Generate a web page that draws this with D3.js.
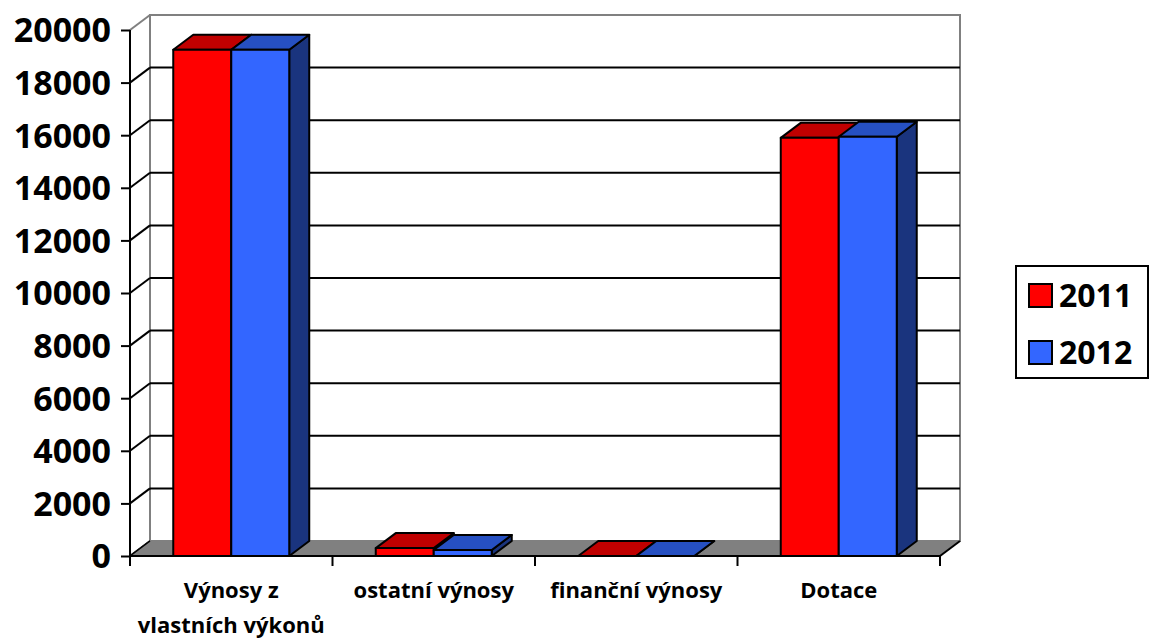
<!DOCTYPE html>
<html><head><meta charset="utf-8">
<script src="https://cdn.jsdelivr.net/npm/d3@7"></script>
<style>body{margin:0;background:#fff}svg{display:block}</style>
</head><body>
<svg id="c" width="1151" height="641"></svg>
<script>
const categories = [["Výnosy z","vlastních výkonů"],["ostatní výnosy"],["finanční výnosy"],["Dotace"]];
const seriesNames = ["2011","2012"];
const values2011 = [19250, 300, 0, 15900];
const values2012 = [19250, 230, 0, 15940];
const yTicks = [0,2000,4000,6000,8000,10000,12000,14000,16000,18000,20000];

const svg = d3.select("#c");
const font = "'Open Sans', Lato, sans-serif";
const X0 = 130, X1 = 940, Y0 = 556, YT = 30, DX = 20, DY = -15;
const y = d3.scaleLinear().domain([0,20000]).range([Y0, YT]);
const x = d3.scaleBand().domain(d3.range(categories.length)).range([X0, X1]).padding(0);
const xs = d3.scaleBand().domain(seriesNames).range([0, x.bandwidth()]).paddingInner(0).paddingOuter(0.7457);
const colors = {
  "2011": {front:"#FF0000", top:"#C00000", side:"#800000"},
  "2012": {front:"#3366FF", top:"#2650C2", side:"#1A347E"}
};

// back wall
svg.append("rect").attr("x", X0+DX).attr("y", YT+DY).attr("width", X1-X0).attr("height", Y0-YT)
  .attr("fill","#fff").attr("stroke","#808080").attr("stroke-width",2);
// gridlines on back wall and left side wall
yTicks.forEach(t => {
  const yy = y(t);
  const isTop = t === 20000;
  if (t > 0 && !isTop) {
    svg.append("line").attr("x1", X0+DX).attr("x2", X1+DX).attr("y1", yy+DY).attr("y2", yy+DY)
      .attr("stroke","#000").attr("stroke-width",2);
  }
  svg.append("line").attr("x1", X0).attr("y1", yy).attr("x2", X0+DX).attr("y2", yy+DY)
    .attr("stroke", isTop ? "#808080" : "#000").attr("stroke-width",2);
});
// floor
svg.append("polygon")
  .attr("points", [[X0,Y0],[X1,Y0],[X1+DX,Y0+DY],[X0+DX,Y0+DY]].map(p=>p.join(",")).join(" "))
  .attr("fill","#808080").attr("stroke","#808080").attr("stroke-width",1);
svg.append("line").attr("x1",X1).attr("y1",Y0).attr("x2",X1+DX).attr("y2",Y0+DY).attr("stroke","#000").attr("stroke-width",2);
svg.append("line").attr("x1",X0).attr("y1",Y0).attr("x2",X0+DX).attr("y2",Y0+DY).attr("stroke","#000").attr("stroke-width",1.5);

// bars
const data = [values2011, values2012];
categories.forEach((c, i) => {
  seriesNames.forEach((s, j) => {
    const v = data[j][i];
    const bx = x(i) + xs(s), w = xs.bandwidth(), yv = y(v);
    const g = svg.append("g").attr("stroke","#000").attr("stroke-width",2).attr("stroke-linejoin","round");
    const pts = a => a.map(p=>p.join(",")).join(" ");
    g.append("polygon").attr("points", pts([[bx+w,yv],[bx+w+DX,yv+DY],[bx+w+DX,Y0+DY],[bx+w,Y0]])).attr("fill", colors[s].side);
    g.append("polygon").attr("points", pts([[bx,yv],[bx+w,yv],[bx+w+DX,yv+DY],[bx+DX,yv+DY]])).attr("fill", colors[s].top);
    if (v > 0) g.append("rect").attr("x",bx).attr("y",yv).attr("width",w).attr("height",Y0-yv).attr("fill", colors[s].front);
  });
});

// y axis
svg.append("line").attr("x1",X0).attr("x2",X0).attr("y1",YT).attr("y2",Y0).attr("stroke","#000").attr("stroke-width",2);
const yAxis = d3.axisLeft(y).tickValues(yTicks).tickSize(9).tickPadding(10).tickFormat(d3.format("d"));
const ya = svg.append("g").attr("transform",`translate(${X0},0)`).call(yAxis);
ya.select(".domain").remove();
ya.selectAll(".tick line").attr("stroke","#000").attr("stroke-width",2);
ya.selectAll(".tick text").attr("font-family",font).attr("font-weight","bold").attr("font-size",34).attr("fill","#000").attr("dy","0.35em");

// x axis
svg.append("line").attr("x1",X0).attr("x2",X1).attr("y1",Y0).attr("y2",Y0).attr("stroke","#000").attr("stroke-width",2);
d3.range(categories.length+1).forEach(k => {
  const xx = X0 + k * x.step();
  svg.append("line").attr("x1",xx).attr("x2",xx).attr("y1",Y0).attr("y2",Y0+10).attr("stroke","#000").attr("stroke-width",2);
});
categories.forEach((c, i) => {
  const t = svg.append("text").attr("x", x(i)+x.bandwidth()/2).attr("y", 598)
    .attr("text-anchor","middle").attr("font-family",font).attr("font-weight","bold").attr("font-size",22).attr("fill","#000");
  c.forEach((line, k) => t.append("tspan").attr("x", x(i)+x.bandwidth()/2).attr("dy", k===0?0:35).text(line));
});

// legend
svg.append("rect").attr("x",1016).attr("y",266).attr("width",132).attr("height",112).attr("fill","#fff").attr("stroke","#000").attr("stroke-width",2);
seriesNames.forEach((s, j) => {
  const ly = 284 + j*57;
  svg.append("rect").attr("x",1029).attr("y",ly).attr("width",23).attr("height",23).attr("fill",colors[s].front).attr("stroke","#000").attr("stroke-width",2);
  svg.append("text").attr("x",1059).attr("y",ly+23).attr("font-family",font).attr("font-weight","bold").attr("font-size",32).attr("fill","#000").text(s);
});
</script>
</body></html>
